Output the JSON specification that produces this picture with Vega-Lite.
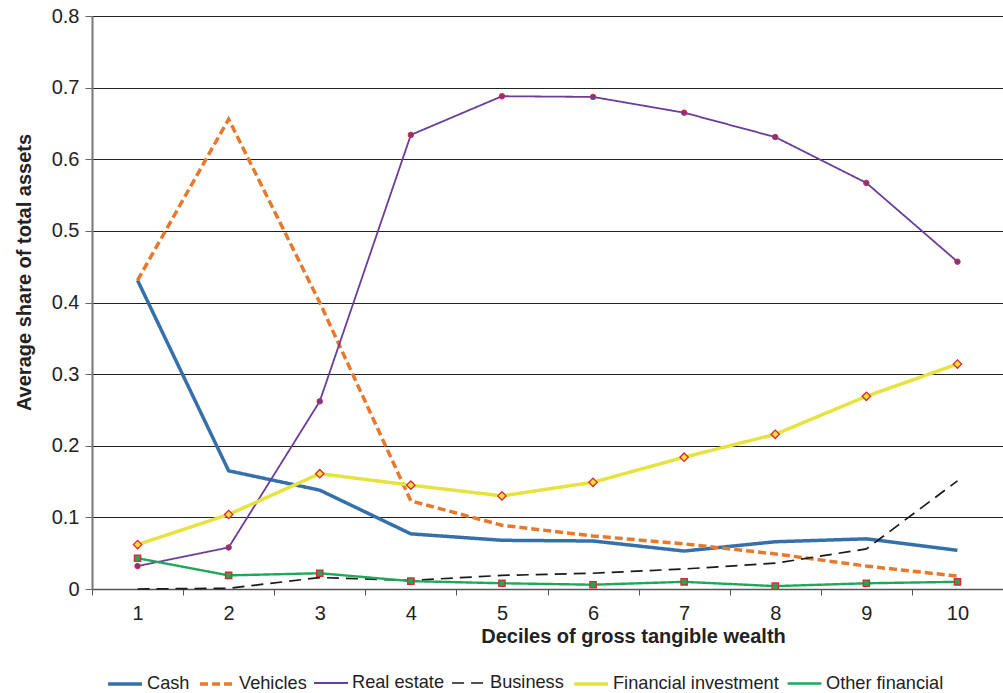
{
  "$schema": "https://vega.github.io/schema/vega-lite/v6.json",
  "width": 911,
  "height": 573,
  "autosize": "none",
  "padding": {"left": 92, "top": 16, "right": 0, "bottom": 104},
  "background": "white",
  "config": {
    "view": {"stroke": null},
    "font": "Liberation Sans",
    "axis": {"labelFont": "Liberation Sans", "titleFont": "Liberation Sans", "labelColor": "#222", "titleColor": "#222"},
    "legend": {
      "title": null, "orient": "none", "legendX": 14, "legendY": 649,
      "direction": "horizontal",
      "symbolType": "stroke", "symbolSize": 1150,
      "labelFontSize": 18.2, "labelFont": "Liberation Sans", "labelColor": "#222",
      "labelOffset": 3, "columnPadding": 3, "labelLimit": 400, "gridAlign": "none"
    }
  },
  "data": {"values": [
    {"d": 1, "s": "Cash", "v": 0.431}, {"d": 2, "s": "Cash", "v": 0.165}, {"d": 3, "s": "Cash", "v": 0.138}, {"d": 4, "s": "Cash", "v": 0.077}, {"d": 5, "s": "Cash", "v": 0.068}, {"d": 6, "s": "Cash", "v": 0.067}, {"d": 7, "s": "Cash", "v": 0.053}, {"d": 8, "s": "Cash", "v": 0.066}, {"d": 9, "s": "Cash", "v": 0.070}, {"d": 10, "s": "Cash", "v": 0.054},
    {"d": 1, "s": "Vehicles", "v": 0.431}, {"d": 2, "s": "Vehicles", "v": 0.656}, {"d": 3, "s": "Vehicles", "v": 0.400}, {"d": 4, "s": "Vehicles", "v": 0.123}, {"d": 5, "s": "Vehicles", "v": 0.089}, {"d": 6, "s": "Vehicles", "v": 0.074}, {"d": 7, "s": "Vehicles", "v": 0.063}, {"d": 8, "s": "Vehicles", "v": 0.049}, {"d": 9, "s": "Vehicles", "v": 0.032}, {"d": 10, "s": "Vehicles", "v": 0.018},
    {"d": 1, "s": "Real estate", "v": 0.032}, {"d": 2, "s": "Real estate", "v": 0.058}, {"d": 3, "s": "Real estate", "v": 0.262}, {"d": 4, "s": "Real estate", "v": 0.634}, {"d": 5, "s": "Real estate", "v": 0.688}, {"d": 6, "s": "Real estate", "v": 0.687}, {"d": 7, "s": "Real estate", "v": 0.665}, {"d": 8, "s": "Real estate", "v": 0.631}, {"d": 9, "s": "Real estate", "v": 0.567}, {"d": 10, "s": "Real estate", "v": 0.457},
    {"d": 1, "s": "Business", "v": 0.0}, {"d": 2, "s": "Business", "v": 0.001}, {"d": 3, "s": "Business", "v": 0.016}, {"d": 4, "s": "Business", "v": 0.012}, {"d": 5, "s": "Business", "v": 0.019}, {"d": 6, "s": "Business", "v": 0.022}, {"d": 7, "s": "Business", "v": 0.028}, {"d": 8, "s": "Business", "v": 0.036}, {"d": 9, "s": "Business", "v": 0.056}, {"d": 10, "s": "Business", "v": 0.151},
    {"d": 1, "s": "Financial investment", "v": 0.062}, {"d": 2, "s": "Financial investment", "v": 0.104}, {"d": 3, "s": "Financial investment", "v": 0.161}, {"d": 4, "s": "Financial investment", "v": 0.145}, {"d": 5, "s": "Financial investment", "v": 0.130}, {"d": 6, "s": "Financial investment", "v": 0.149}, {"d": 7, "s": "Financial investment", "v": 0.184}, {"d": 8, "s": "Financial investment", "v": 0.216}, {"d": 9, "s": "Financial investment", "v": 0.269}, {"d": 10, "s": "Financial investment", "v": 0.314},
    {"d": 1, "s": "Other financial", "v": 0.043}, {"d": 2, "s": "Other financial", "v": 0.019}, {"d": 3, "s": "Other financial", "v": 0.022}, {"d": 4, "s": "Other financial", "v": 0.011}, {"d": 5, "s": "Other financial", "v": 0.008}, {"d": 6, "s": "Other financial", "v": 0.006}, {"d": 7, "s": "Other financial", "v": 0.010}, {"d": 8, "s": "Other financial", "v": 0.004}, {"d": 9, "s": "Other financial", "v": 0.008}, {"d": 10, "s": "Other financial", "v": 0.010}
  ]},
  "encoding": {
    "x": {
      "field": "d", "type": "ordinal",
      "scale": {"type": "band", "paddingInner": 0, "paddingOuter": 0},
      "axis": {
        "title": "Deciles of gross tangible wealth",
        "labelAngle": 0, "labelFontSize": 20, "labelPadding": 8,
        "tickBand": "extent", "tickSize": 6, "tickColor": "#555", "domainColor": "#555", "domainWidth": 1.5,
        "titleFontSize": 20, "titleFontWeight": "bold",
        "titleX": 541, "titleY": 47, "titleBaseline": "middle", "titleAlign": "center"
      }
    },
    "y": {
      "field": "v", "type": "quantitative",
      "scale": {"domain": [0, 0.8]},
      "axis": {
        "title": "Average share of total assets",
        "values": [0, 0.1, 0.2, 0.3, 0.4, 0.5, 0.6, 0.7, 0.8],
        "format": ".1~f", "labelFontSize": 20, "labelPadding": 6,
        "tickSize": 7, "tickColor": "#666", "domainColor": "#777", "domainWidth": 2,
        "gridColor": "#222", "gridWidth": 1.2,
        "titleFontSize": 20, "titleFontWeight": "bold",
        "titleX": -68, "titleY": 256, "titleAngle": 270, "titleBaseline": "middle", "titleAlign": "center"
      }
    }
  },
  "layer": [
    {
      "mark": {"type": "line"},
      "encoding": {
        "color": {
          "field": "s", "type": "nominal",
          "scale": {
            "domain": ["Cash", "Vehicles", "Real estate", "Business", "Financial investment", "Other financial"],
            "range": ["#3570ab", "#e8792b", "#6a3d9a", "#1a1a1a", "#e6e340", "#1fa85a"]
          }
        },
        "strokeDash": {
          "field": "s", "type": "nominal",
          "scale": {
            "domain": ["Cash", "Vehicles", "Real estate", "Business", "Financial investment", "Other financial"],
            "range": [[1, 0], [8, 4], [1, 0], [12, 7], [1, 0], [1, 0]]
          }
        },
        "strokeWidth": {
          "field": "s", "type": "nominal",
          "scale": {
            "type": "ordinal",
            "domain": ["Cash", "Vehicles", "Real estate", "Business", "Financial investment", "Other financial"],
            "range": [3.5, 3.5, 1.8, 1.7, 3.5, 2.4]
          }
        }
      }
    },
    {
      "transform": [{"filter": "datum.s === 'Real estate'"}],
      "mark": {"type": "point", "shape": "circle", "filled": true, "fill": "#6a3d9a", "stroke": "#e3262b", "strokeWidth": 1, "size": 30, "opacity": 1}
    },
    {
      "transform": [{"filter": "datum.s === 'Financial investment'"}],
      "mark": {"type": "point", "shape": "diamond", "filled": true, "fill": "#e6e340", "stroke": "#e3262b", "strokeWidth": 1.3, "size": 70, "opacity": 1}
    },
    {
      "transform": [{"filter": "datum.s === 'Other financial'"}],
      "mark": {"type": "point", "shape": "square", "filled": true, "fill": "#1fa85a", "stroke": "#e3262b", "strokeWidth": 1.3, "size": 40, "opacity": 1}
    }
  ]
}
